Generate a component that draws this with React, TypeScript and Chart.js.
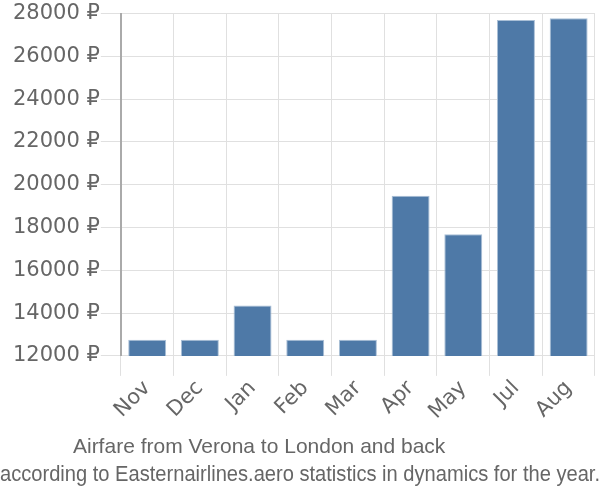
import React, { useEffect, useRef } from "react";
import { Chart, registerables } from "chart.js";

Chart.register(...registerables);

const months = ["Nov", "Dec", "Jan", "Feb", "Mar", "Apr", "May", "Jul", "Aug"];
const prices = [12750, 12750, 14350, 12750, 12750, 19480, 17690, 27700, 27780];
const yMin = 12000;
const yMax = 28000;
const yStep = 2000;
const currency = "₽";
const titleText = "Airfare from Verona to London and back";
const subtitleText = "according to Easternairlines.aero statistics in dynamics for the year.";

export default function App() {
  const ref = useRef<HTMLCanvasElement>(null);
  useEffect(() => {
    if (!ref.current) return;
    const font = "'Liberation Sans', Arial, sans-serif";
    const tickFont = "'DejaVu Sans', sans-serif";
    const chart = new Chart(ref.current, {
      type: "bar",
      data: {
        labels: months,
        datasets: [
          {
            data: prices,
            backgroundColor: "#4e79a7",
            borderColor: "#a9bfd6",
            borderWidth: 1,
          },
        ],
      },
      options: {
        animation: false,
        responsive: false,
        maintainAspectRatio: false,
        layout: { padding: { top: 3, right: 0, left: 0, bottom: 12 } },
        plugins: {
          legend: { display: false },
          tooltip: { enabled: false },
          title: {
            display: true,
            position: "bottom",
            text: titleText + " ".repeat(14),
            color: "#666",
            font: { family: font, size: 21, weight: "normal" },
            padding: { top: 10, bottom: 0 },
            weight: 1000,
          },
          subtitle: {
            display: true,
            position: "bottom",
            text: subtitleText,
            color: "#666",
            font: { family: font, size: 22, weight: "normal" },
            padding: { top: 2, bottom: 0 },
            weight: 2000,
          },
        },
        scales: {
          x: {
            grid: { color: "#e0e0e0", tickLength: 20, offset: true },
            border: { display: false },
            ticks: {
              color: "#666",
              font: { family: tickFont, size: 21 },
              maxRotation: 45,
              minRotation: 45,
              padding: 0,
            },
            afterFit: (s: any) => {
              s.paddingRight = Math.max(s.paddingRight, 5);
            },
          },
          y: {
            min: yMin,
            max: yMax,
            grid: { color: "#e0e0e0", tickLength: 20 },
            border: { color: "#aaa", width: 2 },
            ticks: {
              stepSize: yStep,
              color: "#666",
              font: { family: tickFont, size: 21 },
              padding: 1,
              callback: (v: any) => `${v} ${currency}`,
            },
            afterFit: (s: any) => {
              s.width += 12;
            },
          },
        },
      },
    });
    return () => chart.destroy();
  }, []);
  return (
    <div style={{ position: "fixed", left: 0, top: 0, width: 600, height: 500, background: "#fff" }}>
      <canvas ref={ref} width={600} height={500} />
    </div>
  );
}
